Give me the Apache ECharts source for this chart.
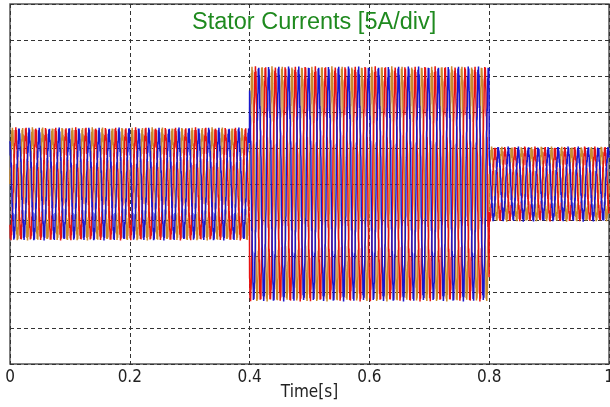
<!DOCTYPE html>
<html>
<head>
<meta charset="utf-8">
<script src="https://cdn.jsdelivr.net/npm/echarts@6/dist/echarts.min.js"></script>
<style>
  html, body { margin: 0; padding: 0; background: #ffffff; }
  #chart { width: 610px; height: 407px; }
</style>
</head>
<body>
<div id="chart"></div>
<script>
// Three-phase stator currents with two load steps (at 0.4 s and 0.8 s).
const phaseNames = ['ia', 'ib', 'ic'];
const phaseShiftDeg = [0, -120, 120];
const segmentStart = [0.0, 0.4, 0.8];
const segmentEnd = [0.4, 0.8, 1.0];
const segmentPeakAmps = [7.0, 15.3, 4.6];        // fundamental peak per interval [A]
const segmentRippleAmps = [0.8, 0.9, 0.6];       // inverter switching ripple per interval [A]
const supplyFrequencyHz = [60];
const rippleFrequencyHz = [1050];
const harmonicOrder = [5, 7, 11, 13];
const harmonicRatio = [0.05, 0.035, 0.02, 0.015]; // relative to fundamental
const xTickLabels = ['0', '0.2', '0.4', '0.6', '0.8', '1'];
const yRange = [-25, 25];                          // 5 A per division

const phaseColors = ['#c98a2c', '#e81212', '#1818cc'];
const samplesPerSecond = 8000;

function segmentIndex(t) {
  for (let i = 0; i < segmentStart.length; i++) {
    if (t >= segmentStart[i] && t < segmentEnd[i]) return i;
  }
  return segmentStart.length - 1;
}

function phaseCurrent(k) {
  const f = supplyFrequencyHz[0];
  const fr = rippleFrequencyHz[0];
  const shift = phaseShiftDeg[k] * Math.PI / 180;
  const pts = [];
  const n = Math.round((segmentEnd[segmentEnd.length - 1] - segmentStart[0]) * samplesPerSecond);
  for (let s = 0; s <= n; s++) {
    const t = segmentStart[0] + s / samplesPerSecond;
    const i = segmentIndex(t);
    const wt = 2 * Math.PI * f * t + shift;
    let v = Math.sin(wt);
    for (let h = 0; h < harmonicOrder.length; h++) {
      v += harmonicRatio[h] * Math.sin(harmonicOrder[h] * wt);
    }
    const ripple = segmentRippleAmps[i] * Math.sin(2 * Math.PI * fr * t + 3 * shift);
    pts.push([t, segmentPeakAmps[i] * v + ripple]);
  }
  return pts;
}

const chart = echarts.init(document.getElementById('chart'), null, { renderer: 'canvas' });

const series = phaseNames.map((name, k) => ({
  name: name,
  type: 'line',
  data: phaseCurrent(k),
  showSymbol: false,
  symbol: 'none',
  sampling: null,
  silent: true,
  lineStyle: { color: phaseColors[k], width: 1.5 },
  z: 2 + k
}));

chart.setOption({
  animation: false,
  backgroundColor: '#ffffff',
  title: {
    text: 'Stator Currents [5A/div]',
    left: 187,
    top: 6,
    textStyle: {
      color: '#1f8a1f',
      fontFamily: 'Liberation Sans, Arial, sans-serif',
      fontWeight: 'normal',
      fontSize: 23.5
    },
    z: 10
  },
  grid: {
    left: 10, right: 1, top: 4, bottom: 43,
    outerBoundsMode: 'none',
    containLabel: false,
    show: true,
    borderColor: '#555555',
    borderWidth: 1.5,
    backgroundColor: 'transparent'
  },
  xAxis: {
    type: 'value',
    min: 0, max: 1, interval: 0.2,
    name: 'Time[s]',
    nameLocation: 'middle',
    nameGap: 20,
    nameMoveOverlap: false,
    nameTextStyle: {
      color: '#222222',
      fontFamily: 'Liberation Sans Narrow, DejaVu Sans Condensed, Arial, sans-serif',
      fontSize: 17
    },
    axisLine: { show: false },
    axisTick: { show: false },
    axisLabel: {
      margin: 5,
      color: '#222222',
      fontFamily: 'Liberation Sans Narrow, DejaVu Sans Condensed, Arial, sans-serif',
      fontSize: 17,
      formatter: (v) => xTickLabels[Math.round(v / 0.2)]
    },
    splitLine: {
      show: true,
      lineStyle: { color: '#333333', type: [4, 3], width: 1 }
    }
  },
  yAxis: {
    type: 'value',
    min: yRange[0], max: yRange[1], interval: 5,
    axisLine: { show: false },
    axisTick: { show: false },
    axisLabel: { show: false },
    splitLine: {
      show: true,
      lineStyle: { color: '#333333', type: [4, 3], width: 1 }
    }
  },
  series: series
});
</script>
</body>
</html>
